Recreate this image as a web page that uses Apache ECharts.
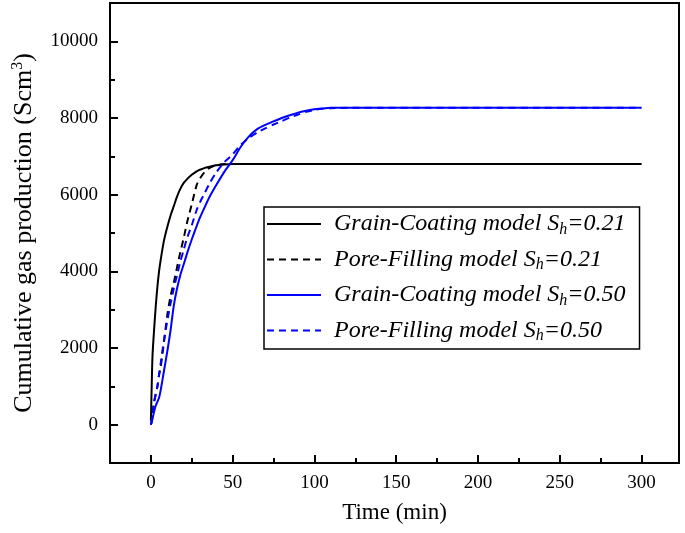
<!DOCTYPE html>
<html>
<head>
<meta charset="utf-8">
<script src="https://cdn.jsdelivr.net/npm/echarts@6/dist/echarts.min.js"></script>
<style>html,body{margin:0;padding:0;background:#fff}#c{width:685px;height:533px}</style>
</head>
<body>
<div id="c"></div>
<script>
var times = [0, 0.5, 1, 2, 3, 4, 5, 6, 8, 10, 12, 14, 16, 18, 20, 22, 25, 28, 30, 33, 36, 40, 45, 50, 55, 60, 65, 70, 75, 80, 85, 90, 95, 100, 105, 110, 120, 140, 170, 200, 250, 300];
var gc021 = [100, 1000, 1800, 2500, 3100, 3600, 4000, 4300, 4800, 5150, 5450, 5700, 5950, 6150, 6300, 6400, 6520, 6610, 6650, 6700, 6730, 6770, 6790, 6800, 6800, 6800, 6800, 6800, 6800, 6800, 6800, 6800, 6800, 6800, 6800, 6800, 6800, 6800, 6800, 6800, 6800, 6800];
var pf021 = [0, 80, 300, 600, 800, 1000, 1300, 1500, 2150, 2850, 3350, 3700, 4100, 4500, 4850, 5250, 5750, 6250, 6420, 6600, 6700, 6770, 6800, 6800, 6800, 6800, 6800, 6800, 6800, 6800, 6800, 6800, 6800, 6800, 6800, 6800, 6800, 6800, 6800, 6800, 6800, 6800];
var gc050 = [0, 80, 150, 350, 500, 600, 700, 900, 1400, 1900, 2450, 3100, 3550, 3900, 4170, 4450, 4830, 5180, 5400, 5680, 5950, 6250, 6600, 6900, 7250, 7520, 7710, 7820, 7910, 8000, 8070, 8140, 8190, 8230, 8250, 8265, 8270, 8270, 8270, 8270, 8270, 8270];
var pf050 = [0, 100, 250, 600, 800, 1000, 1300, 1600, 2200, 2700, 3150, 3550, 3900, 4250, 4550, 4850, 5200, 5600, 5800, 6050, 6300, 6580, 6850, 7050, 7300, 7480, 7620, 7730, 7830, 7920, 8010, 8090, 8160, 8210, 8240, 8255, 8265, 8265, 8265, 8265, 8265, 8265];
var xTicks = [0, 50, 100, 150, 200, 250, 300];
var xMinor = [25, 75, 125, 175, 225, 275];
var yTicks = [0, 2000, 4000, 6000, 8000, 10000];
var yMinor = [1000, 3000, 5000, 7000, 9000];
var legendLabels = {
  'gc021': ['Grain-Coating model S', 'h', '=0.21'],
  'pf021': ['Pore-Filling model S', 'h', '=0.21'],
  'gc050': ['Grain-Coating model S', 'h', '=0.50'],
  'pf050': ['Pore-Filling model S', 'h', '=0.50']
};

function pairs(v) { return times.map(function (t, i) { return [t, v[i]]; }); }
var FONT = 'Liberation Serif';

var chart = echarts.init(document.getElementById('c'));
function mkSeries(name, data, color, dashed) {
  return {
    name: name, type: 'line', data: pairs(data), symbol: 'none', smooth: 0.25,
    xAxisIndex: 0, yAxisIndex: 0,
    lineStyle: { color: color, width: 2, type: dashed ? [7, 5] : 'solid' },
    itemStyle: { color: color }, animation: false
  };
}
function plain(v) { return String(v); }
chart.setOption({
  animation: false,
  grid: { left: 110, right: 6, top: 3, bottom: 70, show: true, borderColor: '#000', borderWidth: 2, containLabel: false, outerBoundsMode: 'none' },
  legend: {
    orient: 'vertical', left: 264, top: 207,
    data: ['gc021', 'pf021', 'gc050', 'pf050'],
    itemWidth: 54, itemHeight: 14, itemGap: 10,
    padding: [5, 14, 5, 2],
    borderColor: '#000', borderWidth: 1.5,
    itemStyle: { opacity: 0 },
    formatter: function (n) { var p = legendLabels[n]; return '{a|' + p[0] + '}{b|' + p[1] + '}{a|' + p[2] + '}'; },
    textStyle: {
      color: '#000', fontFamily: FONT, fontStyle: 'italic', fontSize: 24,
      padding: [0, 0, 0, 8],
      rich: {
        a: { fontFamily: FONT, fontStyle: 'italic', fontSize: 24, color: '#000' },
        b: { fontFamily: FONT, fontStyle: 'italic', fontSize: 16, color: '#000', padding: [11, 0, 0, 0] }
      }
    }
  },
  xAxis: [{
    type: 'value', min: -25, max: 323,
    name: 'Time (min)', nameLocation: 'middle', nameGap: 38,
    nameTextStyle: { fontFamily: FONT, fontSize: 23, color: '#000' },
    axisLine: { onZero: false, lineStyle: { color: '#000', width: 2 } },
    axisTick: { inside: true, length: 8, lineStyle: { color: '#000', width: 2 }, customValues: xTicks },
    axisLabel: { fontFamily: FONT, fontSize: 19, color: '#000', margin: 11, customValues: xTicks, formatter: plain },
    splitLine: { show: false }
  }, {
    type: 'value', min: -25, max: 323, position: 'bottom', offset: 0,
    axisLine: { show: false, onZero: false },
    axisTick: { show: true, inside: true, length: 5, lineStyle: { color: '#000', width: 2 }, customValues: xMinor },
    axisLabel: { show: false }, splitLine: { show: false }
  }],
  yAxis: [{
    type: 'value', min: -1000, max: 11000,
    name: '{a|Cumulative gas production (Scm}{s|3}{a|)}', nameLocation: 'middle', nameGap: 72,
    nameTextStyle: {
      fontFamily: FONT, fontSize: 26, color: '#000',
      rich: {
        a: { fontFamily: FONT, fontSize: 26, color: '#000' },
        s: { fontFamily: FONT, fontSize: 16, color: '#000', padding: [0, 0, 12, 0] }
      }
    },
    axisLine: { onZero: false, lineStyle: { color: '#000', width: 2 } },
    axisTick: { inside: true, length: 8, lineStyle: { color: '#000', width: 2 }, customValues: yTicks },
    axisLabel: { fontFamily: FONT, fontSize: 19, color: '#000', margin: 12, customValues: yTicks, formatter: plain },
    splitLine: { show: false }
  }, {
    type: 'value', min: -1000, max: 11000, position: 'left', offset: 0,
    axisLine: { show: false, onZero: false },
    axisTick: { show: true, inside: true, length: 5, lineStyle: { color: '#000', width: 2 }, customValues: yMinor },
    axisLabel: { show: false }, splitLine: { show: false }
  }],
  series: [
    mkSeries('gc021', gc021, '#000000', false),
    mkSeries('pf021', pf021, '#000000', true),
    mkSeries('gc050', gc050, '#0000ff', false),
    mkSeries('pf050', pf050, '#0000ff', true)
  ]
});
</script>
</body>
</html>
